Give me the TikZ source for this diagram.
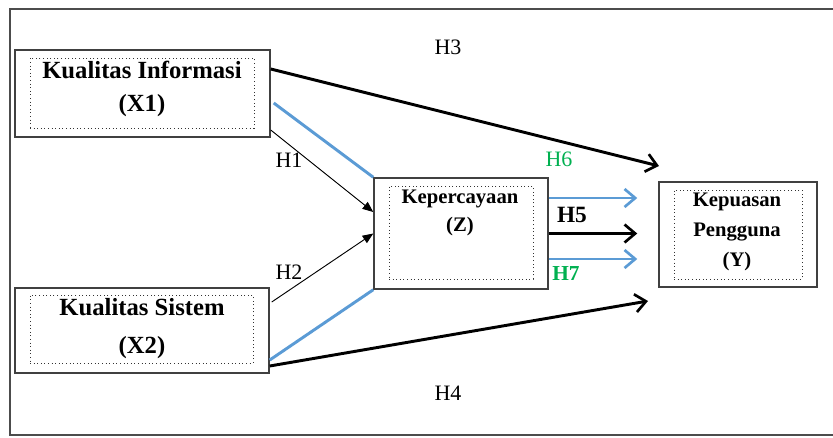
\documentclass[tikz,border=0pt]{standalone}
\usepackage{fontspec}
\setmainfont{Liberation Serif}
\usetikzlibrary{arrows.meta,calc}
\definecolor{lineblue}{HTML}{5B9BD5}
\definecolor{hgreen}{HTML}{00B050}

\begin{document}
\begin{tikzpicture}[
    x=0.75pt, y=-0.75pt,
    box/.style={draw=black!75, line width=1.1pt, fill=white, inner sep=0pt},
    inbox/.style={draw=black!80, dotted, line width=0.7pt, inner sep=0pt},
    bigtext/.style={font=\fontsize{18.5}{25}\selectfont\bfseries, align=center},
    smalltext/.style={font=\fontsize{15.5}{21}\selectfont\bfseries, align=center},
    hyp/.style={font=\fontsize{16.5}{18}\selectfont},
    arrow/.style={line width=2.2pt, -{Straight Barb[length=8pt,width=13.5pt,line width=2pt]}},
    thinarrow/.style={line width=0.7pt, -{Triangle[length=8pt,width=6.5pt]}},
    bluearrow/.style={draw=lineblue, line width=2.2pt, -{Straight Barb[length=8pt,width=13.5pt,line width=2pt]}},
    blueline/.style={draw=lineblue, line width=2.2pt}
  ]
  \useasboundingbox (0,0) rectangle (833,437);

  % frame
  \draw[draw=black!70, line width=1.2pt] (833,9) -- (10,9) -- (10,435) -- (833,435);

  % variables
  \node[box, minimum width=191.25pt, minimum height=65.25pt] (X1) at (142.5,93.5) {};
  \node[inbox, minimum width=168pt, minimum height=52.5pt] (X1in) at (142,93) {};
  \node[bigtext] (X1txt) at (142,89) {Kualitas Informasi\\(X1)};

  \node[box, minimum width=190.5pt, minimum height=63.75pt] (X2) at (142,330.5) {};
  \node[inbox, minimum width=167.25pt, minimum height=51pt] (X2in) at (141.5,329) {};
  \node[bigtext, font=\fontsize{18.5}{28}\selectfont\bfseries] (X2txt) at (142,328.5) {Kualitas Sistem\\(X2)};

  \node[box, minimum width=130.5pt, minimum height=83.25pt] (Z) at (461,233.5) {};
  \node[inbox, minimum width=108pt, minimum height=69.75pt] (Zin) at (461,232.5) {};
  \node[smalltext] (Ztxt) at (460,213) {Kepercayaan\\(Z)};

  \node[box, minimum width=118.5pt, minimum height=78.75pt] (Y) at (738,234.5) {};
  \node[inbox, minimum width=96pt, minimum height=66.75pt] (Yin) at (738,234.5) {};
  \node[smalltext, font=\fontsize{15.5}{22.5}\selectfont\bfseries] (Ytxt) at (737,232) {Kepuasan\\Pengguna\\(Y)};

  \coordinate (H3end) at (659,166);
  \coordinate (H4end) at (648,301);

  % paths
  \draw[arrow] ($(X1.east)+(0,-24.5)$) -- (H3end);
  \draw[blueline] ($(X1.east)+(3,9.5)$) -- (Z.north west);
  \draw[thinarrow] ($(X1.east)+(0,36.5)$) -- ($(Z.west)+(0,-21.5)$);
  \draw[thinarrow] ($(X2.east)+(2,-28.5)$) -- (Z.west);
  \draw[blueline] ($(X2.east)+(0,29.5)$) -- (Z.south west);
  \draw[arrow] ($(X2.east)+(0,35.5)$) -- (H4end);
  \draw[bluearrow] ($(Z.east)+(0,-35.5)$) -- ($(Y.west)+(-21,-36.5)$);
  \draw[arrow] (Z.east) -- ($(Y.west)+(-21,-1)$);
  \draw[bluearrow] ($(Z.east)+(0,25.5)$) -- ($(Y.west)+(-21,24.5)$);

  % hypotheses
  \node[hyp] (H3) at (448,47) {H3};
  \node[hyp] (H4) at (448,393) {H4};
  \node[hyp] (H1) at (289,160) {H1};
  \node[hyp] (H2) at (289,272) {H2};
  \node[hyp, text=hgreen] (H6) at (559,159) {H6};
  \node[hyp, font=\fontsize{17.5}{18}\selectfont\bfseries] (H5) at (572,215) {H5};
  \node[hyp, text=hgreen, font=\fontsize{16}{18}\selectfont\bfseries] (H7) at (566,274) {H7};

\end{tikzpicture}
\end{document}
